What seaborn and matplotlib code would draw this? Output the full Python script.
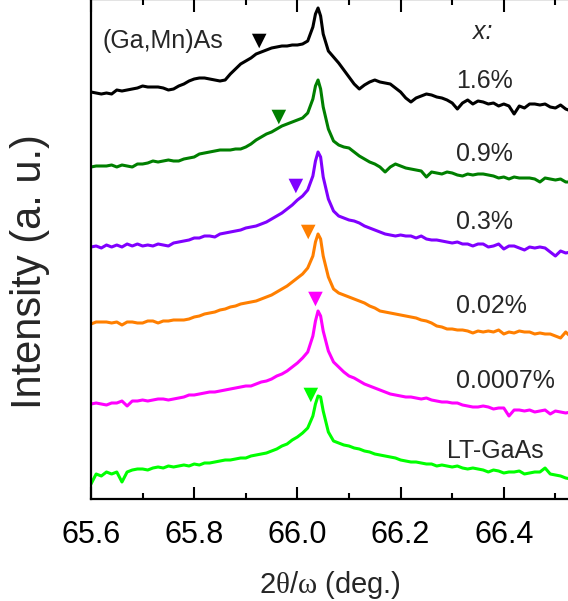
import matplotlib
matplotlib.use("Agg")
import matplotlib.pyplot as plt
from matplotlib.ticker import FixedLocator, MultipleLocator, FormatStrFormatter
import numpy as np
import pandas as pd
import seaborn as sns

# 2theta/omega scan positions (deg.)
two_theta = [65.60, 65.61, 65.62, 65.63, 65.64, 65.65, 65.66, 65.67, 65.68, 65.69,
             65.70, 65.71, 65.72, 65.73, 65.74, 65.75, 65.76, 65.77, 65.78, 65.79,
             65.80, 65.81, 65.82, 65.83, 65.84, 65.85, 65.86, 65.87, 65.88, 65.89,
             65.90, 65.91, 65.92, 65.93, 65.94, 65.95, 65.96, 65.97, 65.98, 65.99,
             66.00, 66.01, 66.02, 66.03, 66.035, 66.04, 66.045, 66.05, 66.06, 66.07,
             66.08, 66.09, 66.10, 66.11, 66.12, 66.13, 66.14, 66.15, 66.16, 66.17,
             66.18, 66.19, 66.20, 66.21, 66.22, 66.23, 66.24, 66.25, 66.26, 66.27,
             66.28, 66.29, 66.30, 66.31, 66.32, 66.33, 66.34, 66.35, 66.36, 66.37,
             66.38, 66.39, 66.40, 66.41, 66.42, 66.43, 66.44, 66.45, 66.46, 66.47,
             66.48, 66.49, 66.50, 66.51, 66.52, 66.53]

# stacked intensities (a. u.), one list per Mn content
int_16 = [407, 406, 405, 406, 405, 409, 408, 409, 410, 411,
          413, 412, 412, 412, 411, 409, 410, 413, 415, 418,
          420, 421, 421, 420, 419, 418, 419, 425, 430, 435,
          438, 441, 445, 447, 449, 451, 452, 453, 453, 454,
          454, 455, 458, 472, 485, 491, 483, 465, 448, 442,
          436, 429, 422, 415, 410, 414, 417, 419, 417, 416,
          415, 411, 407, 401, 397, 401, 403, 405, 404, 402,
          401, 399, 396, 390, 396, 399, 395, 398, 397, 395,
          396, 393, 395, 393, 385, 393, 391, 395, 395, 394,
          395, 392, 391, 394, 390, 388]
int_09 = [332, 333, 333, 333, 334, 332, 334, 333, 332, 335,
          335, 336, 338, 337, 338, 339, 338, 338, 340, 341,
          342, 345, 346, 347, 348, 349, 349, 349, 350, 350,
          352, 355, 359, 362, 365, 367, 370, 373, 375, 377,
          379, 381, 386, 400, 413, 419, 410, 392, 370, 358,
          354, 352, 351, 347, 343, 340, 337, 335, 332, 327,
          332, 335, 333, 331, 330, 329, 328, 322, 327, 326,
          325, 327, 326, 324, 323, 325, 324, 325, 325, 324,
          323, 321, 322, 320, 322, 321, 321, 321, 320, 317,
          321, 320, 319, 320, 317, 317]
int_03 = [252, 253, 251, 254, 252, 254, 252, 255, 253, 255,
          253, 254, 253, 255, 254, 253, 256, 257, 258, 259,
          261, 261, 263, 263, 262, 265, 266, 267, 268, 269,
          271, 272, 273, 275, 277, 280, 283, 286, 290, 294,
          299, 303, 309, 323, 338, 347, 342, 322, 300, 288,
          283, 281, 279, 278, 276, 273, 271, 269, 267, 265,
          264, 263, 264, 263, 263, 261, 263, 260, 259, 259,
          258, 257, 256, 257, 255, 255, 253, 255, 255, 252,
          253, 255, 250, 253, 253, 251, 249, 252, 251, 252,
          251, 247, 243, 248, 246, 247]
int_002 = [175, 177, 177, 177, 176, 177, 174, 177, 177, 176,
           176, 178, 178, 176, 178, 178, 179, 179, 179, 180,
           182, 183, 185, 186, 187, 189, 190, 192, 193, 195,
           196, 197, 198, 200, 202, 204, 207, 210, 213, 217,
           221, 225, 231, 243, 257, 265, 260, 243, 222, 210,
           206, 204, 202, 200, 198, 196, 193, 191, 188, 187,
           186, 185, 184, 183, 182, 181, 179, 178, 176, 173,
           172, 170, 170, 169, 169, 168, 166, 168, 167, 168,
           167, 169, 165, 167, 166, 168, 167, 167, 165, 166,
           165, 165, 163, 161, 167, 162]
int_00007 = [95, 96, 95, 94, 96, 96, 98, 93, 98, 98,
             99, 98, 99, 100, 100, 99, 100, 101, 102, 104,
             104, 105, 106, 107, 107, 108, 109, 110, 111, 112,
             113, 113, 115, 117, 118, 120, 123, 125, 128, 132,
             136, 141, 147, 163, 178, 188, 183, 168, 148, 137,
             132, 127, 123, 121, 118, 115, 113, 111, 109, 107,
             105, 104, 103, 102, 102, 101, 100, 101, 99, 98,
             97, 97, 96, 96, 94, 93, 92, 92, 93, 92,
             90, 91, 91, 83, 89, 89, 88, 89, 87, 88,
             89, 85, 88, 87, 86, 87]
int_lt = [15, 25, 23, 27, 25, 27, 17, 27, 29, 30,
          30, 29, 31, 32, 31, 33, 32, 33, 34, 33,
          35, 34, 36, 36, 37, 38, 39, 39, 40, 41,
          41, 43, 44, 45, 46, 48, 50, 53, 55, 59,
          62, 66, 71, 83, 95, 103, 102, 88, 67, 58,
          56, 54, 53, 51, 50, 48, 47, 45, 44, 43,
          42, 41, 39, 38, 37, 37, 36, 35, 35, 33,
          34, 33, 32, 33, 31, 30, 31, 30, 29, 27,
          29, 28, 26, 27, 27, 28, 25, 26, 27, 27,
          31, 25, 24, 23, 21, 20]

samples = ["1.6%", "0.9%", "0.3%", "0.02%", "0.0007%", "LT-GaAs"]
colors = ["#000000", "#007f00", "#8000ff", "#ff7f00", "#ff00ff", "#00ff00"]

# layer peak markers (triangles)
layer_pos = [65.926, 65.964, 65.997, 66.021, 66.035, 66.026]
layer_int = [458, 382, 313, 267, 200, 104]

major_ticks = [65.6, 65.8, 66.0, 66.2, 66.4]

curves = [int_16, int_09, int_03, int_002, int_00007, int_lt]
df = pd.concat([pd.DataFrame({"two_theta": two_theta, "intensity": c, "sample": s})
                for s, c in zip(samples, curves)], ignore_index=True)
marks = pd.DataFrame({"two_theta": layer_pos, "intensity": layer_int, "sample": samples})
palette = dict(zip(samples, colors))

sns.set_theme(style="ticks")
plt.rcParams["font.family"] = ["Liberation Sans", "DejaVu Sans"]
plt.rcParams["mathtext.fontset"] = "custom"
plt.rcParams["mathtext.rm"] = "Liberation Serif"
plt.rcParams["mathtext.it"] = "Liberation Serif:italic"

fig = plt.figure(figsize=(5.68, 6.01), dpi=100)
ax = fig.add_axes([91 / 568, 102 / 601, 516 / 568, 500 / 601])

sns.lineplot(data=df, x="two_theta", y="intensity", hue="sample", palette=palette,
             estimator=None, sort=False, linewidth=2.2, legend=False, ax=ax)
sns.scatterplot(data=marks, x="two_theta", y="intensity", hue="sample", palette=palette,
                marker="v", s=110, linewidth=0, legend=False, ax=ax, zorder=5)

ax.set_xlim(65.6, 66.6)
ax.set_ylim(0, 500)
ax.set_yticks([])
ax.xaxis.set_major_locator(FixedLocator(major_ticks))
ax.xaxis.set_minor_locator(MultipleLocator(0.1))
ax.xaxis.set_major_formatter(FormatStrFormatter("%.1f"))
ax.tick_params(axis="x", which="both", direction="in", top=True, bottom=True,
               width=1.5, labelsize=22, pad=15, colors="black")
ax.tick_params(axis="x", which="major", length=9)
ax.tick_params(axis="x", which="minor", length=4.5)
for sp in ax.spines.values():
    sp.set_linewidth(1.6)
    sp.set_color("black")

ax.set_xlabel(r"2$\mathrm{\theta}$/$\mathrm{\omega}$ (deg.)", fontsize=21)
ax.xaxis.set_label_coords(0.463, -0.140)
ax.set_ylabel("")
fig.text(30 / 568, 1 - 272 / 601, "Intensity (a. u.)", rotation=90,
         ha="center", va="center", fontsize=30)

# annotations
ax.text(65.623, 458, "(Ga,Mn)As", fontsize=18, va="center", ha="left")
ax.text(66.34, 467, "x:", fontsize=18, va="center", ha="left", style="italic")
label_x = [66.307, 66.307, 66.307, 66.307, 66.307, 66.290]
label_y = [418, 345, 277, 193, 118, 48]
for s, lx, ly in zip(samples, label_x, label_y):
    ax.text(lx, ly, s, fontsize=18, va="center", ha="left")

fig.savefig("out.png", dpi=100)
